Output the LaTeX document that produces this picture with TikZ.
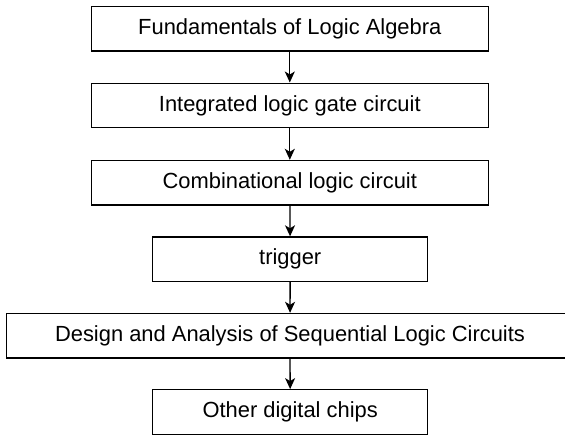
\documentclass[tikz,border=0pt]{standalone}
\usepackage{fontspec}
\setmainfont{Liberation Sans}
\usetikzlibrary{arrows.meta}
\begin{document}
\begin{tikzpicture}[x=1pt, y=1pt, line width=1.3pt,
  stage/.style={draw, rectangle, minimum height=44.5pt, inner sep=0pt, font=\fontsize{21.9}{26}\selectfont},
  flow/.style={-{Stealth[length=11pt, width=10pt, inset=3pt]}}]
\useasboundingbox (0,0) rectangle (565,-434);
\node[stage, minimum width=397pt] (S_0) at (289.8,-28.7) {Fundamentals of Logic Algebra};
\node[stage, minimum width=397pt] (S_1) at (289.8,-105.4) {Integrated logic gate circuit};
\draw[flow] (S_0) -- (S_1);
\node[stage, minimum width=397pt] (S_2) at (289.8,-182.7) {Combinational logic circuit};
\draw[flow] (S_1) -- (S_2);
\node[stage, minimum width=275pt] (S_3) at (290.2,-259.2) {trigger};
\draw[flow] (S_2) -- (S_3);
\node[stage, minimum width=566.6pt] (S_4) at (290,-335.7) {Design and Analysis of Sequential Logic Circuits};
\draw[flow] (S_3) -- (S_4);
\node[stage, minimum width=275pt] (S_5) at (290.2,-412) {Other digital chips};
\draw[flow] (S_4) -- (S_5);
\end{tikzpicture}
\end{document}
